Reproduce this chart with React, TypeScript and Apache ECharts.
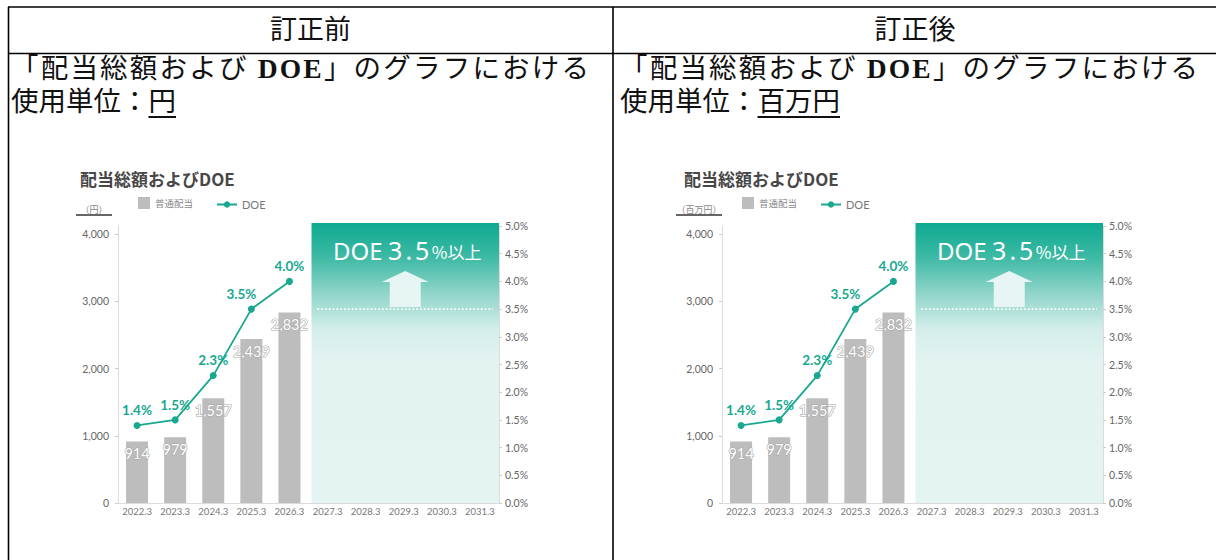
import React, { useEffect, useRef } from 'react';
import * as echarts from 'echarts';

const categories = ['2022.3', '2023.3', '2024.3', '2025.3', '2026.3', '2027.3', '2028.3', '2029.3', '2030.3', '2031.3'];
const dividendTotal = [914, 979, 1557, 2439, 2832];
const doeRatio = [1.4, 1.5, 2.3, 3.5, 4.0];
const amountTicks = [0, 1000, 2000, 3000, 4000];
const amountAxisMax = 4120;
const doeAxisMax = 5;
const doeInterval = 0.5;
const targetRange = ['2027.3', '2031.3'];
const targetDOE = 3.5;
const headers = ['訂正前', '訂正後'];
const units = ['円', '百万円'];
const axisUnits = ['（円）', '（百万円）'];
const chartTitle = '配当総額およびDOE';
const docLine1a = '「配当総額および';
const docLine1b = ' DOE';
const docLine1c = '」のグラフにおける';
const docLine2 = '使用単位：';

const TEAL = '#17a88f';
const SANS = 'Lato, "Noto Sans", "Noto Sans CJK JP", sans-serif';
const CJK = '"Noto Sans CJK JP", "Noto Sans", sans-serif';
const DOC_FONT = '"Liberation Serif", "Noto Sans CJK JP", serif';

const PANEL_DX = 604;

function buildOption() {
  const grid: any[] = [];
  const xAxis: any[] = [];
  const yAxis: any[] = [];
  const series: any[] = [];
  const legend: any[] = [];
  const graphic: any[] = [];

  const lineStyle = { stroke: '#000', lineWidth: 1.6 };
  graphic.push(
    { type: 'line', shape: { x1: 8, y1: 7, x2: 1216, y2: 7 }, style: lineStyle },
    { type: 'line', shape: { x1: 8, y1: 53.5, x2: 1216, y2: 53.5 }, style: lineStyle },
    { type: 'line', shape: { x1: 8.5, y1: 7, x2: 8.5, y2: 560 }, style: lineStyle },
    { type: 'line', shape: { x1: 613, y1: 7, x2: 613, y2: 560 }, style: lineStyle }
  );

  const startIdx = categories.indexOf(targetRange[0]);
  const endIdx = categories.indexOf(targetRange[1]);

  for (let i = 0; i < 2; i++) {
    const dx = i * PANEL_DX;
    grid.push({ left: 118 + dx, top: 226, width: 381, height: 277 });
    xAxis.push({
      type: 'category',
      gridIndex: i,
      data: categories,
      boundaryGap: true,
      axisLine: { show: true, lineStyle: { color: '#dcdcdc', width: 1 } },
      axisTick: { show: false },
      axisLabel: { interval: 0, color: '#777', fontSize: 9.5, fontFamily: SANS, margin: 4 },
      splitLine: { show: false },
    });
    yAxis.push({
      type: 'value',
      gridIndex: i,
      min: 0,
      max: amountAxisMax,
      axisLine: { show: true, lineStyle: { color: '#dcdcdc', width: 1 } },
      axisTick: { show: true, length: 3, customValues: amountTicks, lineStyle: { color: '#ccc' } },
      axisLabel: {
        customValues: amountTicks,
        color: '#666',
        fontSize: 10.5,
        fontFamily: SANS,
        margin: 9,
        formatter: (v: number) => v.toLocaleString('en-US'),
      },
      splitLine: { show: false },
    });
    yAxis.push({
      type: 'value',
      gridIndex: i,
      position: 'right',
      min: 0,
      max: doeAxisMax,
      interval: doeInterval,
      axisLine: { show: true, lineStyle: { color: '#dcdcdc', width: 1 } },
      axisTick: { show: true, length: 3, lineStyle: { color: '#ccc' } },
      axisLabel: {
        color: '#666',
        fontSize: 10.5,
        fontFamily: SANS,
        margin: 6,
        formatter: (v: number) => v.toFixed(1) + '%',
      },
      splitLine: { show: false },
    });

    series.push({
      type: 'custom',
      name: 'target' + i,
      xAxisIndex: i,
      yAxisIndex: 2 * i + 1,
      z: 1,
      silent: true,
      encode: { x: [0, 1], y: 2 },
      data: [[startIdx, endIdx, targetDOE]],
      renderItem: (params: any, api: any) => {
        const s = api.value(0);
        const e = api.value(1);
        const t = api.value(2);
        const band = api.size([1, 0])[0];
        const left = api.coord([s, 0])[0] - band / 2 + 3;
        const right = api.coord([e, 0])[0] + band / 2;
        const bottom = api.coord([e, 0])[1];
        const top = api.coord([e, doeAxisMax])[1] - 3;
        const yT = api.coord([e, t])[1];
        const cx = (left + right) / 2;
        const big = { fontFamily: '"Noto Sans", sans-serif', fill: '#fff', color: '#fff', verticalAlign: 'bottom', lineHeight: 28 };
        const num = t.toFixed(1).split('');
        return {
          type: 'group',
          children: [
            {
              type: 'rect',
              shape: { x: left, y: top, width: right - left, height: bottom - top },
              style: {
                fill: new echarts.graphic.LinearGradient(0, 0, 0, 1, [
                  { offset: 0, color: '#0ea991' },
                  { offset: 0.12, color: '#3cb9a4' },
                  { offset: 0.25, color: '#8fd5c9' },
                  { offset: 0.38, color: '#d4eeea' },
                  { offset: 0.5, color: '#e3f3f2' },
                  { offset: 1, color: '#e4f4f3' },
                ]),
              },
            },
            {
              type: 'line',
              shape: { x1: left + 6, y1: yT, x2: right - 6, y2: yT },
              style: { stroke: '#ffffff', lineWidth: 1.6, lineDash: [1.6, 2.2] },
            },
            {
              type: 'polygon',
              shape: {
                points: [
                  [cx, top + 48],
                  [cx + 23.5, top + 59],
                  [cx + 15.5, top + 59],
                  [cx + 15.5, top + 84],
                  [cx - 15.5, top + 84],
                  [cx - 15.5, top + 59],
                  [cx - 23.5, top + 59],
                ],
              },
              style: { fill: '#e7f5f4' },
            },
            {
              type: 'text',
              x: cx + 2,
              y: top + 25,
              style: {
                text: '{a|DOE}' + num.map((c) => '{b|' + c + '}').join('') + '{c|%以上}',
                align: 'center',
                verticalAlign: 'middle',
                fill: '#ffffff',
                rich: {
                  a: { ...big, fontSize: 24, padding: [0, 4, 0, 0] },
                  b: { ...big, fontSize: 25, padding: [0, 1.5, 0, 1.5] },
                  c: { ...big, fontSize: 17, fontFamily: '"Noto Sans CJK JP", sans-serif', padding: [0, 0, 2, 1] },
                },
              },
            },
          ],
        };
      },
    });

    series.push({
      type: 'bar',
      name: '普通配当',
      xAxisIndex: i,
      yAxisIndex: 2 * i,
      z: 2,
      barWidth: 22,
      data: dividendTotal,
      itemStyle: { color: '#bdbdbd' },
      label: {
        show: true,
        position: 'insideTop',
        distance: 5,
        color: '#ffffff',
        fontSize: 14.5,
        fontFamily: SANS,
        textBorderColor: '#a8a8a8',
        textBorderWidth: 1.2,
        formatter: (p: any) => Number(p.value).toLocaleString('en-US'),
      },
    });

    series.push({
      type: 'line',
      name: 'DOE',
      xAxisIndex: i,
      yAxisIndex: 2 * i + 1,
      z: 3,
      data: doeRatio.map((v, k) =>
        k === 3 ? { value: v, label: { offset: [-10, 0] } } : v
      ),
      color: TEAL,
      symbol: 'circle',
      symbolSize: 7,
      lineStyle: { color: TEAL, width: 1.8 },
      itemStyle: { color: TEAL },
      label: {
        show: true,
        position: 'top',
        distance: 5,
        color: TEAL,
        fontSize: 13.5,
        fontWeight: 'bold',
        fontFamily: SANS,
        formatter: (p: any) => Number(p.value).toFixed(1) + '%',
      },
    });

    legend.push({
      data: [{ name: '普通配当', icon: 'rect' }],
      left: 138 + dx,
      top: 197,
      itemWidth: 12,
      itemHeight: 12,
      itemGap: 0,
      padding: 0,
      selectedMode: false,
      textStyle: { color: '#8a8a8a', fontSize: 9.5, fontFamily: CJK },
    });
    legend.push({
      data: ['DOE'],
      left: 216 + dx,
      top: 199,
      itemWidth: 20,
      itemHeight: 8,
      padding: 0,
      selectedMode: false,
      textStyle: { color: '#777', fontSize: 11, fontFamily: SANS },
    });

    graphic.push(
      {
        type: 'text',
        x: 80 + dx,
        y: 178,
        style: {
          text: chartTitle,
          fill: '#474747',
          font: 'bold 17px "Noto Sans CJK JP", sans-serif',
          verticalAlign: 'middle',
        },
      },
      {
        type: 'text',
        x: i === 0 ? 94 : 699,
        y: 209,
        style: {
          text: axisUnits[i],
          fill: '#888',
          font: '9px "Noto Sans CJK JP", sans-serif',
          align: 'center',
          verticalAlign: 'middle',
        },
      },
      {
        type: 'line',
        shape: i === 0 ? { x1: 76, y1: 215, x2: 112, y2: 215 } : { x1: 676, y1: 215, x2: 722, y2: 215 },
        style: { stroke: '#333', lineWidth: 1.3 },
      }
    );
  }

  return {
    animation: false,
    backgroundColor: '#ffffff',
    grid,
    xAxis,
    yAxis,
    series,
    legend,
    graphic,
  };
}

export default function App() {
  const ref = useRef<HTMLDivElement>(null);
  useEffect(() => {
    const chart = echarts.init(ref.current as HTMLDivElement, null, { renderer: 'svg' });
    chart.setOption(buildOption() as any);
    return () => chart.dispose();
  }, []);

  return (
    <div style={{ position: 'absolute', left: 0, top: 0, width: 1216, height: 560, overflow: 'hidden', background: '#fff' }}>
      <div ref={ref} style={{ position: 'absolute', left: 0, top: 0, width: 1216, height: 560 }} />
      {headers.map((h, i) => (
        <div
          key={'h' + i}
          style={{
            position: 'absolute',
            left: i === 0 ? 8 : 613,
            width: i === 0 ? 605 : 604,
            top: 8,
            height: 45,
            lineHeight: '45px',
            textAlign: 'center',
            fontSize: 27,
            fontFamily: DOC_FONT,
            color: '#111',
          }}
        >
          {h}
        </div>
      ))}
      {units.map((u, i) => (
        <div
          key={'t' + i}
          style={{
            position: 'absolute',
            left: i === 0 ? 11 : 620,
            top: 52,
            fontSize: 27.5,
            lineHeight: '33px',
            fontFamily: DOC_FONT,
            color: '#111',
            whiteSpace: 'nowrap',
          }}
        >
          <div style={{ letterSpacing: '2.2px' }}>
            {docLine1a}
            <b>{docLine1b}</b>
            {docLine1c}
          </div>
          <div>
            {docLine2}
            <span style={{ textDecoration: 'underline', textUnderlineOffset: '5px', textDecorationThickness: '1.5px' }}>{u}</span>
          </div>
        </div>
      ))}
    </div>
  );
}
